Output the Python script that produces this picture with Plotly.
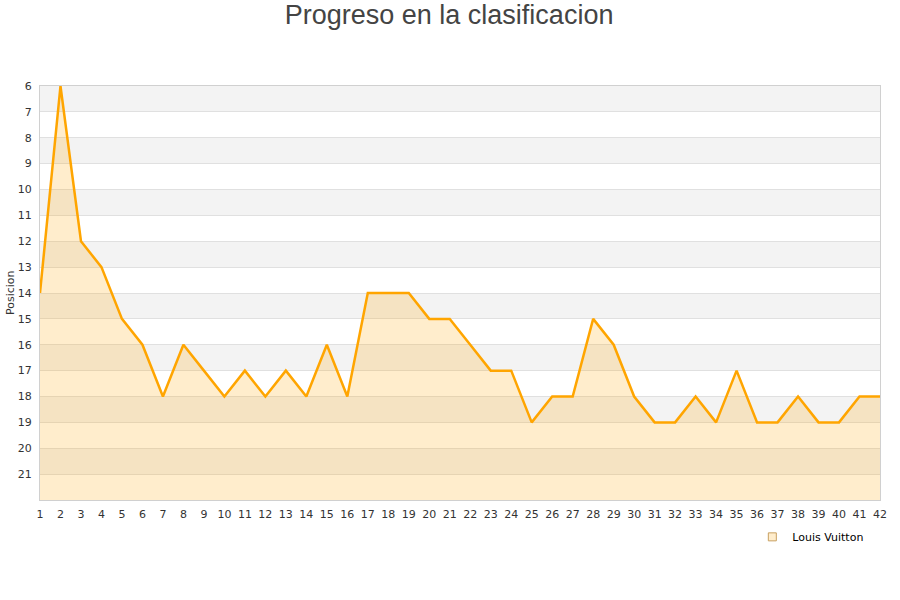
import plotly.graph_objects as go

jornadas = list(range(1, 43))
posiciones = [14, 6, 12, 13, 15, 16, 18, 16, 17, 18, 17, 18, 17, 18, 16, 18, 14, 14, 14, 15,
              15, 16, 17, 17, 19, 18, 18, 15, 16, 18, 19, 19, 18, 19, 17, 19, 19, 18, 19, 19,
              18, 18]
equipo = "Louis Vuitton"
y_ticks = list(range(6, 22))
y_min, y_max = 6, 22
band_starts = list(range(6, 22, 2))

fig = go.Figure()

# baseline for fill
fig.add_trace(go.Scatter(x=jornadas, y=[y_max] * len(jornadas), mode="lines",
                         line=dict(width=0, color="rgba(0,0,0,0)"), showlegend=False,
                         hoverinfo="skip"))
fig.add_trace(go.Scatter(x=jornadas, y=posiciones, mode="lines", fill="tonexty",
                         fillcolor="rgba(255,165,0,0.2)",
                         line=dict(color="#ffa500", width=2.5), showlegend=False, name=equipo))
# legend entry
fig.add_trace(go.Scatter(x=[None], y=[None], mode="markers", name=equipo,
                         marker=dict(symbol="square", size=8, color="rgba(255,165,0,0.2)",
                                     line=dict(color="#c8a060", width=1))))

shapes = []
for s in band_starts:
    shapes.append(dict(type="rect", xref="paper", yref="y", x0=0, x1=1, y0=s, y1=s + 1,
                       fillcolor="#f3f3f3", line=dict(width=0), layer="below"))

fig.update_layout(
    width=900, height=600,
    margin=dict(l=40, r=20, t=86, b=100),
    paper_bgcolor="white", plot_bgcolor="white",
    title=dict(text="Progreso en la clasificacion", x=0.499, xanchor="center", y=0.975,
               yanchor="middle", font=dict(family="Liberation Sans, Arial", size=27, color="#444444")),
    shapes=shapes,
    font=dict(family="DejaVu Sans", size=11, color="#333333"),
    legend=dict(orientation="h", x=0.848, xanchor="left", y=-0.089, yanchor="middle",
                font=dict(family="DejaVu Sans", size=11, color="#000000"),
                bgcolor="rgba(0,0,0,0)"),
    xaxis=dict(range=[1, 42], tickmode="array", tickvals=jornadas, ticktext=[str(j) for j in jornadas],
               showgrid=False, zeroline=False, showline=True, linecolor="#d0d0d0", mirror=True,
               ticks="", ticklabelstandoff=4, automargin=False,
               tickfont=dict(size=11, color="#333333")),
    yaxis=dict(range=[y_max, y_min], tickmode="array", tickvals=y_ticks,
               ticktext=[str(t) for t in y_ticks], showgrid=True, gridcolor="#e0e0e0",
               zeroline=False, showline=True, linecolor="#d0d0d0", mirror=True, ticks="",
               ticklabelstandoff=5, automargin=False,
               tickfont=dict(size=11, color="#333333")),
    annotations=[dict(text="Posicion", xref="paper", yref="paper", x=-30 / 840, y=0.5,
                      xanchor="center", yanchor="middle", textangle=-90, showarrow=False,
                      font=dict(family="DejaVu Sans", size=11, color="#333333"))],
)

fig.write_html("out.html", config={"displayModeBar": False},
               post_script="document.body.style.margin='0';document.body.style.padding='0';")
